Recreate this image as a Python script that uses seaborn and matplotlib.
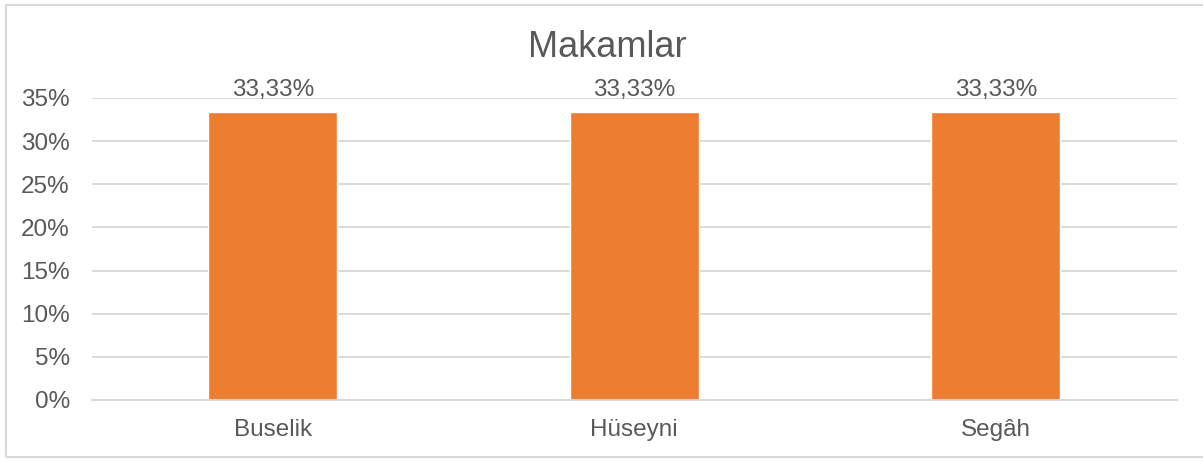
import matplotlib
matplotlib.use("Agg")
import matplotlib.pyplot as plt
import matplotlib.patches as mpatches
import seaborn as sns
from matplotlib.ticker import FuncFormatter

# data
Makamlar = ["Buselik", "Hüseyni", "Segâh"]
Oranlar = [33.33, 33.33, 33.33]

sns.set_style("white")
plt.rcParams["font.family"] = ["Liberation Sans", "DejaVu Sans"]

GRAY = "#595959"
fig = plt.figure(figsize=(12.03, 4.62), dpi=100)
ax = fig.add_axes([0.0765, 0.1342, 0.9015, 0.6537])

sns.barplot(x=Makamlar, y=Oranlar, color="#ED7D31", width=0.356, saturation=1, ax=ax)
ax.set_ylim(0, 35)
ax.set_xlim(-0.5, 2.5)
ax.set_yticks(range(0, 36, 5))
ax.yaxis.set_major_formatter(FuncFormatter(lambda v, p: f"{v:.0f}%"))
ax.grid(axis="y", color="#d9d9d9", linewidth=1.4)
ax.set_axisbelow(True)
for s in ["left", "right", "top"]:
    ax.spines[s].set_visible(False)
ax.spines["bottom"].set_color("#d9d9d9")
ax.spines["bottom"].set_linewidth(1.4)
ax.tick_params(axis="y", length=0, pad=16, labelsize=17.5, labelcolor=GRAY)
ax.tick_params(axis="x", length=0, pad=14, labelsize=17.5, labelcolor=GRAY)

labels = [f"{v:.2f}%".replace(".", ",") for v in Oranlar]
ax.bar_label(ax.containers[0], labels=labels, padding=8, fontsize=17.5, color=GRAY)

fig.text(0.505, 0.897, "Makamlar", ha="center", va="center", fontsize=26, color=GRAY)

# chart frame
fig.patches.append(mpatches.Rectangle((6 / 1203, 5 / 462), 1.1, 452 / 462, transform=fig.transFigure,
                                      fill=False, edgecolor="#d9d9d9", linewidth=1.5))

plt.savefig("out.png", dpi=100)
plt.close()
